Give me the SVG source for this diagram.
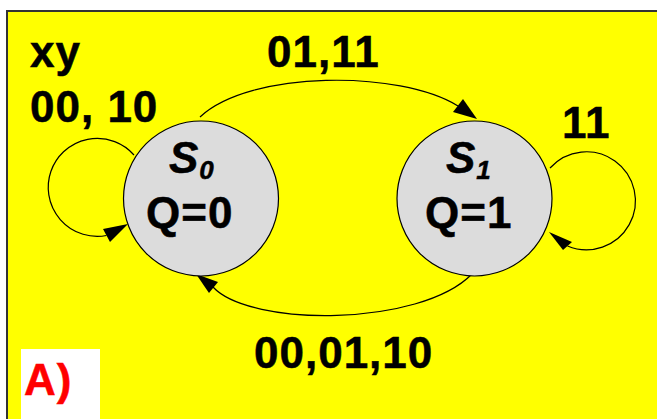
<svg xmlns="http://www.w3.org/2000/svg" width="657" height="419" viewBox="0 0 657 419">
<style>
.t{font-family:"Liberation Sans",Arial,sans-serif;font-weight:bold;font-size:44px;fill:#000;stroke:#000;stroke-width:0.5;letter-spacing:1px}
.s{font-style:italic}
.sub{font-size:26px;font-style:italic}
.st{fill:#dcdcdc;stroke:#000;stroke-width:1.2}
.e{fill:none;stroke:#000;stroke-width:1.2}
.ah{fill:#000;stroke:none}
.red{fill:#ff0000;stroke:#ff0000}
</style>
<rect x="0" y="0" width="657" height="419" fill="#fff"/>
<rect x="7" y="11" width="660" height="420" fill="#ffff00" stroke="#333" stroke-width="2"/>
<rect x="21" y="349" width="79" height="80" fill="#fff"/>
<text class="t red" x="24" y="395">A)</text>
<text class="t" x="30" y="67">xy</text>
<g id="connectors">
<path class="e" d="M200,117 C250,70 400,70 458,106"/>
<polygon class="ah" points="477,119 453,112 463,99"/>
<path class="e" d="M472,274 C420,327 250,327 213,287"/>
<polygon class="ah" points="196,274 218,282 209,293"/>
<path class="e" d="M134,155 A49,49 0 1 0 106.5,235.5"/>
<polygon class="ah" points="128,224 103,229 110,242"/>
<path class="e" d="M550,168 A49,49 0 1 1 567.5,246"/>
<polygon class="ah" points="549,232 563,250 572,242"/>
<text class="t" x="30" y="122">00, 10</text>
<text class="t" x="267" y="67">01,11</text>
<text class="t" x="562" y="138">11</text>
<text class="t" x="254" y="368">00,01,10</text>
</g>
<g id="S0">
<circle class="st" cx="201" cy="198.5" r="77.5"/>
<text class="t s" x="169" y="173">S<tspan class="sub" dy="6">0</tspan></text>
<text class="t" x="146" y="228">Q=0</text>
</g>
<g id="S1">
<circle class="st" cx="474.5" cy="198.5" r="77.5"/>
<text class="t s" x="446" y="173">S<tspan class="sub" dy="6">1</tspan></text>
<text class="t" x="425" y="228">Q=1</text>
</g>
</svg>
